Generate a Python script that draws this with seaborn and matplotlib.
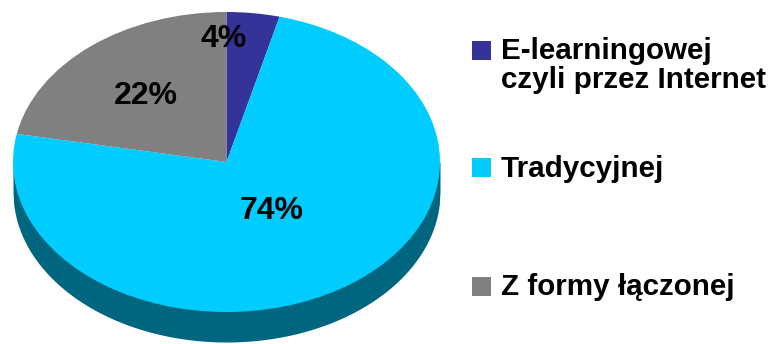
import matplotlib
matplotlib.use("Agg")
import matplotlib.pyplot as plt
import numpy as np
import seaborn as sns
from matplotlib.patches import Rectangle

# Preferred form of study
categories = ["E-learningowej\nczyli przez Internet", "Tradycyjnej", "Z formy łączonej"]
shares = [4, 74, 22]
pct_labels = ["4%", "74%", "22%"]
top_colors = ["#333399", "#00CCFF", "#808080"]
rim_color = "#006680"

sns.set_theme(style="white")
plt.rcParams["font.family"] = ["Liberation Sans", "DejaVu Sans"]

W, H = 774, 344
fig = plt.figure(figsize=(W / 100, H / 100), dpi=100)
ax = fig.add_axes([0, 0, 1, 1])

depth = 0.2  # thickness of the disc, in units of the vertical radius

# front rim of the tilted disc (the large slice faces the viewer)
xs = np.linspace(-1, 1, 600)
ax.fill_between(xs, -np.sqrt(1 - xs ** 2) - depth, 0, color=rim_color, lw=0)

# top face
wedges, _ = ax.pie(shares, colors=top_colors, startangle=90, counterclock=False,
                   radius=1, wedgeprops=dict(linewidth=0))

# percentage labels, placed inside the unit disc
label_xy = [(-0.012, 0.82), (0.213, -0.327), (-0.377, 0.44)]
for txt, (lx, ly) in zip(pct_labels, label_xy):
    ax.text(lx, ly, txt, ha="center", va="center",
            fontsize=23, fontweight="bold", color="black")

# squash the disc into a tilted ellipse
ax.set_aspect("auto")
ax.set_xlim(-226.5 / 213.5, (W - 226.5) / 213.5)
ax.set_ylim(-182 / 150, 162 / 150)
ax.axis("off")

# legend (pixel positions from the top edge)
sq_x, sq_size, txt_x = 472, 19, 501
square_tops = [41, 158, 277]
last_baselines = [88, 177, 295]
for lab, col, top, base in zip(categories, top_colors, square_tops, last_baselines):
    fig.patches.append(Rectangle((sq_x / W, (H - top - sq_size) / H), sq_size / W, sq_size / H,
                                 transform=fig.transFigure, color=col, lw=0))
    fig.text(txt_x / W, (H - base) / H, lab, ha="left", va="baseline",
             fontsize=21.3, fontweight="bold", color="black", linespacing=1.05)

fig.savefig("out.png", dpi=100)
